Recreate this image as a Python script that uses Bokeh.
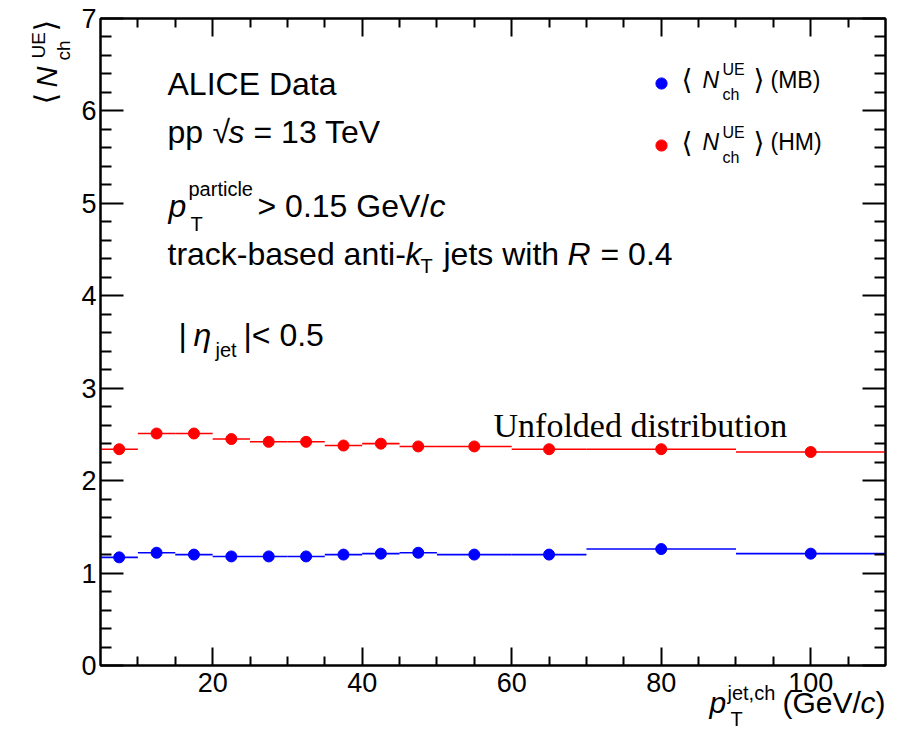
import numpy as np
from bokeh.plotting import figure
from bokeh.models import (Label, LinearAxis, FixedTicker, Legend, LegendItem,
                          Range1d, CustomJSTickFormatter)
from bokeh.core.properties import value
from bokeh.embed import file_html
from bokeh.resources import INLINE

# ---------------- data ----------------
bin_edges = [5, 10, 15, 20, 25, 30, 35, 40, 45, 50, 60, 70, 90, 110]
pt_centers = [7.5, 12.5, 17.5, 22.5, 27.5, 32.5, 37.5, 42.5, 47.5, 55, 65, 80, 100]
nch_hm = [2.34, 2.51, 2.51, 2.45, 2.42, 2.42, 2.38, 2.40, 2.37, 2.37, 2.34, 2.34, 2.31]
nch_mb = [1.17, 1.22, 1.20, 1.18, 1.18, 1.18, 1.20, 1.21, 1.22, 1.20, 1.20, 1.26, 1.21]

x_major_ticks = [20, 40, 60, 80, 100]
x_minor_ticks = [10, 15, 25, 30, 35, 45, 50, 55, 65, 70, 75, 85, 90, 95, 105]
y_major_ticks = [0, 1, 2, 3, 4, 5, 6, 7]
y_minor_ticks = [round(v, 1) for v in np.arange(0, 7.01, 0.2) if abs(v - round(v)) > 1e-6]

X0, X1, Y0, Y1 = 5, 110, 0, 7

# ---------------- layout (canvas px of the frame) ----------------
FL, FT, FR, FB = 100, 18, 885, 665
W, H = 912, 730

p = figure(width=W, height=H, x_range=Range1d(X0, X1), y_range=Range1d(Y0, Y1),
           output_backend="svg", toolbar_location=None,
           min_border_left=FL, min_border_right=W - FR,
           min_border_top=FT, min_border_bottom=H - FB,
           background_fill_color="white", border_fill_color="white")
p.xgrid.visible = False
p.ygrid.visible = False
p.outline_line_color = "black"
p.outline_line_width = 2

FONT = "Liberation Sans"
TICK_FS = "27px"


def style_axis(ax, ticker, major_in, minor_in, show_labels, standoff):
    ax.ticker = ticker
    ax.axis_line_color = "black"
    ax.axis_line_width = 2
    ax.major_tick_in = major_in
    ax.major_tick_out = 0
    ax.minor_tick_in = minor_in
    ax.minor_tick_out = 0
    ax.major_tick_line_width = 2
    ax.minor_tick_line_width = 2
    ax.major_tick_line_color = "black"
    ax.minor_tick_line_color = "black"
    ax.major_label_text_font = FONT
    ax.major_label_text_color = "black"
    ax.major_label_text_font_size = TICK_FS
    if show_labels:
        ax.major_label_standoff = standoff
    else:
        ax.formatter = CustomJSTickFormatter(code="return ''")
        ax.major_label_standoff = 0


style_axis(p.xaxis[0], FixedTicker(ticks=x_major_ticks, minor_ticks=x_minor_ticks), 18, 9, True, 7)
style_axis(p.yaxis[0], FixedTicker(ticks=y_major_ticks, minor_ticks=y_minor_ticks), 23, 11, True, 4)

ax_top = LinearAxis()
style_axis(ax_top, FixedTicker(ticks=x_major_ticks, minor_ticks=x_minor_ticks), 18, 9, False, 0)
p.add_layout(ax_top, "above")
ax_right = LinearAxis()
style_axis(ax_right, FixedTicker(ticks=y_major_ticks, minor_ticks=y_minor_ticks), 23, 11, False, 0)
p.add_layout(ax_right, "right")

# ---------------- data marks ----------------
p.segment(x0=bin_edges[:-1], x1=bin_edges[1:], y0=nch_hm, y1=nch_hm,
          line_color="#ff0000", line_width=1.6)
p.segment(x0=bin_edges[:-1], x1=bin_edges[1:], y0=nch_mb, y1=nch_mb,
          line_color="#0000ff", line_width=1.6)
r_hm = p.scatter(pt_centers, nch_hm, size=11, fill_color="#ff0000", line_color="#ff0000")
r_mb = p.scatter(pt_centers, nch_mb, size=11, fill_color="#0000ff", line_color="#0000ff")

legend = Legend(items=[LegendItem(label="", renderers=[r_mb]),
                       LegendItem(label="", renderers=[r_hm])],
                location=(547, 506), glyph_width=28, glyph_height=28,
                label_height=20, label_width=0, label_standoff=0,
                spacing=34, padding=0, margin=0,
                border_line_color=None, background_fill_alpha=0)
p.add_layout(legend)

# ---------------- texts ----------------
K = 0.345   # offset between the text anchor and its alphabetic baseline (em)


def to_data(px, py):
    x = X0 + (px - FL) * (X1 - X0) / (FR - FL)
    y = Y0 + (FB - py) * (Y1 - Y0) / (FB - FT)
    return x, y


def lab(px, py, text, size, italic=False, font=FONT):
    """Text inside the frame; (px, py) = left end of the baseline, canvas px."""
    p.add_layout(Label(x=px, y=py - K * size, x_units="canvas", y_units="canvas",
                       text=text, text_font=font,
                       text_font_size=f"{size}px",
                       text_font_style="italic" if italic else "normal",
                       text_color="black", text_align="left",
                       text_baseline="alphabetic"))


def out(px, py, text, size, italic=False, font=FONT, rotated=False):
    """Text outside the frame, drawn as an unclipped text glyph."""
    if rotated:
        x, y = to_data(px - K * size, py)
        ang = np.pi / 2
    else:
        x, y = to_data(px, py - K * size)
        ang = 0.0
    p.text(x=[x], y=[y], text=[text], angle=ang,
           text_font=value(font), text_font_size=value(f"{size}px"),
           text_font_style=value("italic" if italic else "normal"),
           text_color="black", text_align="left", text_baseline="alphabetic",
           level="annotation")


BIG = 32
SUB = 20

lab(167, 95, "ALICE Data", BIG)

lab(167, 143, "pp", BIG)
lab(212, 143, "\u221a", BIG)
lab(228, 143, "s", BIG, italic=True)
lab(253, 143, "= 13 TeV", BIG)

lab(168, 217, "p", BIG, italic=True)
lab(188, 195, "particle", SUB)
lab(190, 230, "T", SUB)
lab(257, 217, "> 0.15 GeV/", BIG)
lab(429, 217, "c", BIG, italic=True)

lab(167, 265, "track-based anti-", BIG)
lab(405, 265, "k", BIG, italic=True)
lab(420, 272, "T", SUB)
lab(443, 265, "jets with", BIG)
lab(567, 265, "R", BIG, italic=True)
lab(600, 265, "= 0.4", BIG)

lab(178, 346, "|", BIG)
lab(193, 346, "\u03b7", BIG, italic=True)
lab(215, 356, "jet", SUB)
lab(243, 346, "|< 0.5", BIG)

# legend texts
LEG = 23
LSUB = 16
for dy, tag in [(0, "(MB)"), (62.5, "(HM)")]:
    lab(681, 89 + dy, "\u27e8", 28, font="DejaVu Sans")
    lab(702, 87 + dy, "N", LEG, italic=True)
    lab(722, 75 + dy, "UE", LSUB)
    lab(722, 100 + dy, "ch", LSUB)
    lab(753, 89 + dy, "\u27e9", 28, font="DejaVu Sans")
    lab(770, 87 + dy, tag, LEG)

lab(493, 437, "Unfolded distribution", 34, font="Liberation Serif")

# y axis title (rotated, reads upward)
out(55, 104, "\u27e8", 30, font="DejaVu Sans", rotated=True)
out(57, 87, "N", 29, italic=True, rotated=True)
out(70, 60, "ch", 19, rotated=True)
out(45, 58, "UE", 19, rotated=True)
out(55, 31, "\u27e9", 30, font="DejaVu Sans", rotated=True)

# x axis title
out(709, 712, "p", 30, italic=True)
out(727, 699, "jet,ch", 20)
out(730, 725, "T", 20)
out(782, 712, "(GeV/", 30)
out(860, 712, "c", 30, italic=True)
out(875, 712, ")", 30)

open("out.html", "w").write(file_html(p, INLINE))
